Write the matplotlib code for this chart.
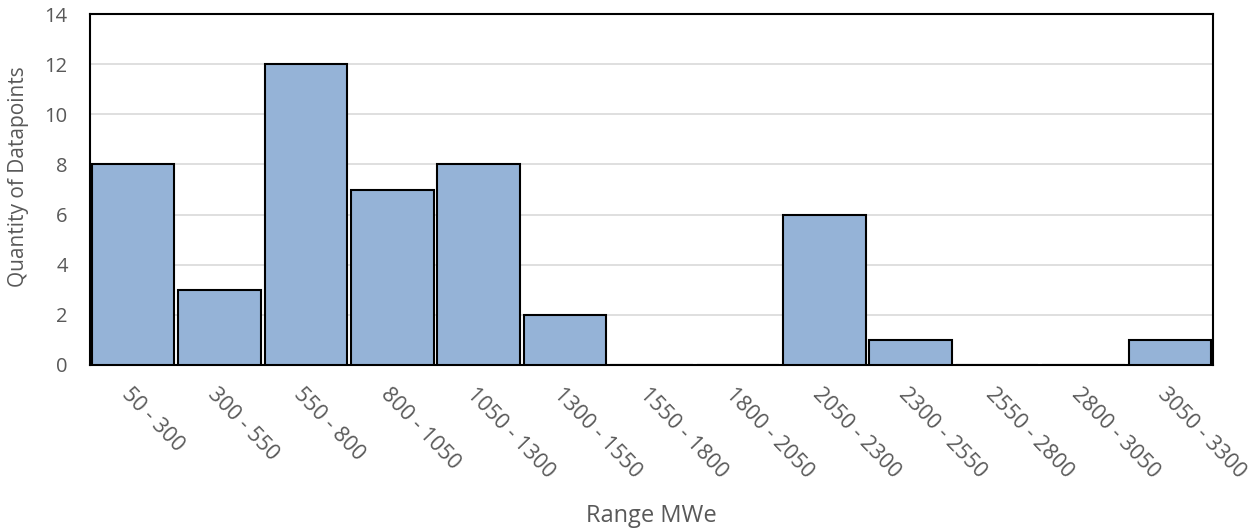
import matplotlib
matplotlib.use("Agg")
import matplotlib.pyplot as plt
import matplotlib.transforms as mt
import numpy as np

categories = ["50 - 300", "300 - 550", "550 - 800", "800 - 1050", "1050 - 1300",
              "1300 - 1550", "1550 - 1800", "1800 - 2050", "2050 - 2300",
              "2300 - 2550", "2550 - 2800", "2800 - 3050", "3050 - 3300"]
counts = [8, 3, 12, 7, 8, 2, 0, 0, 6, 1, 0, 0, 1]
yticks = [0, 2, 4, 6, 8, 10, 12, 14]

plt.rcParams['font.family'] = ['Open Sans', 'DejaVu Sans']
txt = '#595959'

fig = plt.figure(figsize=(12.55, 5.31), dpi=100)
ax = fig.add_axes([90/1255, 1-365/531, (1213-90)/1255, (365-14)/531])

x = np.arange(len(categories))
ax.bar(x, counts, width=0.955, color='#95B3D7', edgecolor='black', linewidth=1.5, zorder=3)
ax.set_xlim(-0.5, len(categories)-0.5)
ax.set_ylim(0, 14)
ax.set_yticks(yticks)
ax.set_yticklabels([str(v) for v in yticks], fontsize=14.5, color=txt)
ax.yaxis.grid(True, color='#D9D9D9', linewidth=1.2, zorder=0)
ax.tick_params(axis='y', length=0, pad=16)
ax.tick_params(axis='x', length=0)
ax.set_xticks(x)
ax.set_xticklabels(categories, rotation=-46, ha='left', va='top', rotation_mode='anchor',
                   fontsize=15.5, color=txt)
off = mt.ScaledTranslation(-1/100, -14/100, fig.dpi_scale_trans)
for lab in ax.get_xticklabels():
    lab.set_transform(lab.get_transform() + off)
for s in ax.spines.values():
    s.set_color('black')
    s.set_linewidth(1.5)
ax.set_ylabel('Quantity of Datapoints', fontsize=15, color=txt)
ax.yaxis.set_label_coords(19/1255, 1-177/531, transform=fig.transFigure)
ax.yaxis.label.set_va('center')
fig.text(651/1255, 1-516/531, 'Range MWe', fontsize=17, color=txt, ha='center', va='center')
fig.savefig('out.png', dpi=100)
